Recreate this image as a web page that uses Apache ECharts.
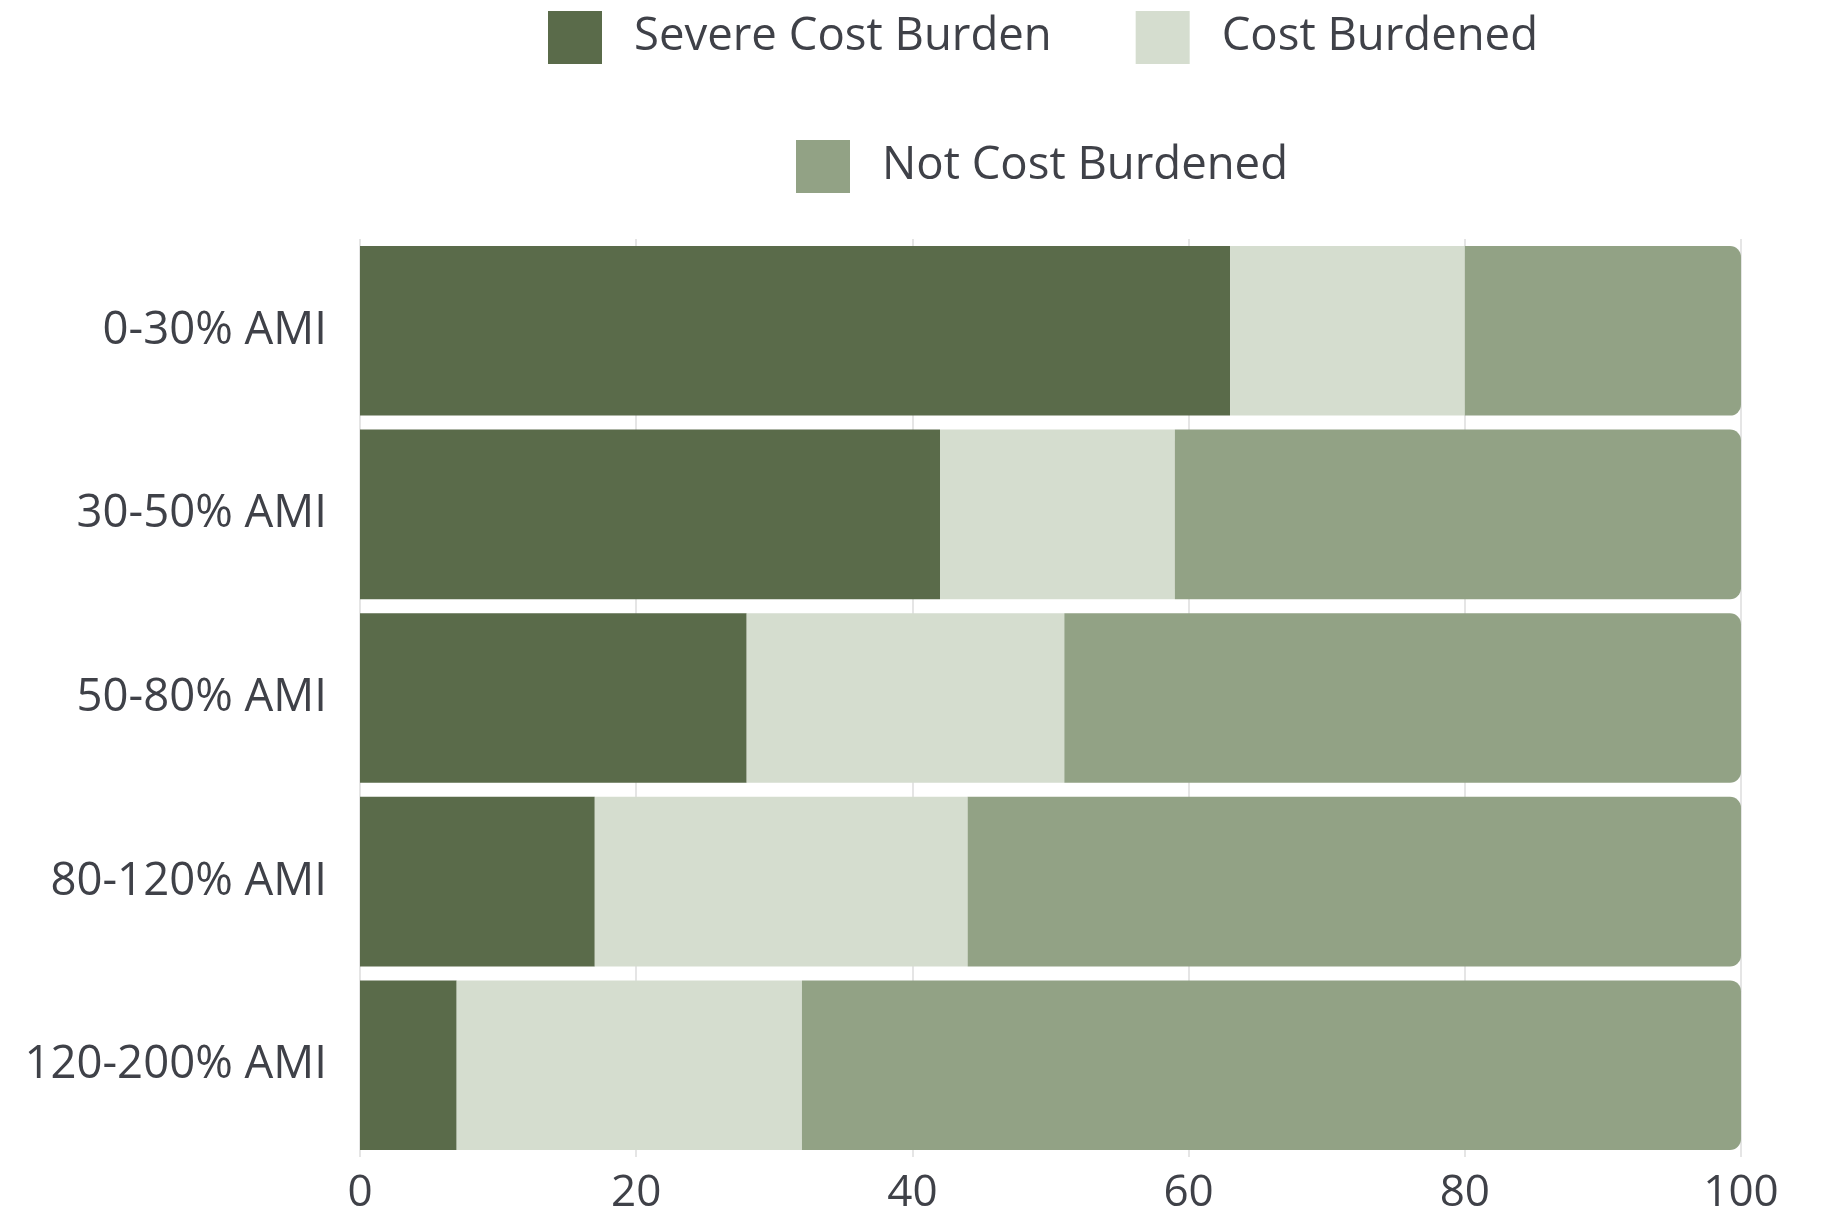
<!DOCTYPE html>
<html>
<head>
<meta charset="utf-8">
<script src="https://cdn.jsdelivr.net/npm/echarts@6/dist/echarts.min.js"></script>
<style>
html,body{margin:0;padding:0;background:#fff;}
#chart{width:1833px;height:1216px;}
</style>
</head>
<body>
<div id="chart"></div>
<script>
const categories = ['0-30% AMI', '30-50% AMI', '50-80% AMI', '80-120% AMI', '120-200% AMI'];
const severeCostBurden = [63, 42, 28, 17, 7];
const costBurdened = [17, 17, 23, 27, 25];
const notCostBurdened = [20, 41, 49, 56, 68];
const seriesNames = ['Severe Cost Burden', 'Cost Burdened', 'Not Cost Burdened'];

const FONT = '"Open Sans", "Noto Sans", sans-serif';
const TEXT = '#3f4148';
const colors = ['#5a6b4a', '#d5ddcf', '#92a285'];

const chart = echarts.init(document.getElementById('chart'), null, {renderer: 'canvas'});
const legendCommon = {
  orient: 'horizontal',
  itemWidth: 54,
  itemHeight: 53,
  itemGap: 84,
  icon: 'rect',
  textStyle: {fontFamily: FONT, fontSize: 45.5, color: TEXT, padding: [8, 0, 0, 27]}
};
chart.setOption({
  backgroundColor: '#ffffff',
  animation: false,
  color: colors,
  legend: [
    Object.assign({}, legendCommon, {data: [seriesNames[0], seriesNames[1]], left: 543, top: 6}),
    Object.assign({}, legendCommon, {data: [seriesNames[2]], left: 791, top: 135})
  ],
  grid: {left: 360, right: 92, top: 239, bottom: 59, containLabel: false},
  xAxis: {
    type: 'value',
    min: 0, max: 100, interval: 20,
    axisLine: {show: false},
    axisTick: {show: false},
    axisLabel: {fontFamily: FONT, fontSize: 44, color: TEXT, margin: 14},
    splitLine: {show: true, lineStyle: {color: '#dcdcdc', width: 1.5}}
  },
  yAxis: {
    type: 'category',
    data: categories,
    inverse: true,
    axisLine: {show: false},
    axisTick: {show: false},
    axisLabel: {fontFamily: FONT, fontSize: 45.5, color: TEXT, margin: 33, padding: [6, 0, 0, 0]}
  },
  series: [
    {name: seriesNames[0], type: 'bar', stack: 'total', data: severeCostBurden, barCategoryGap: '7.6%'},
    {name: seriesNames[1], type: 'bar', stack: 'total', data: costBurdened, barCategoryGap: '7.6%'},
    {name: seriesNames[2], type: 'bar', stack: 'total', data: notCostBurdened, barCategoryGap: '7.6%',
     itemStyle: {borderRadius: [0, 11, 11, 0]}}
  ]
});
</script>
</body>
</html>
